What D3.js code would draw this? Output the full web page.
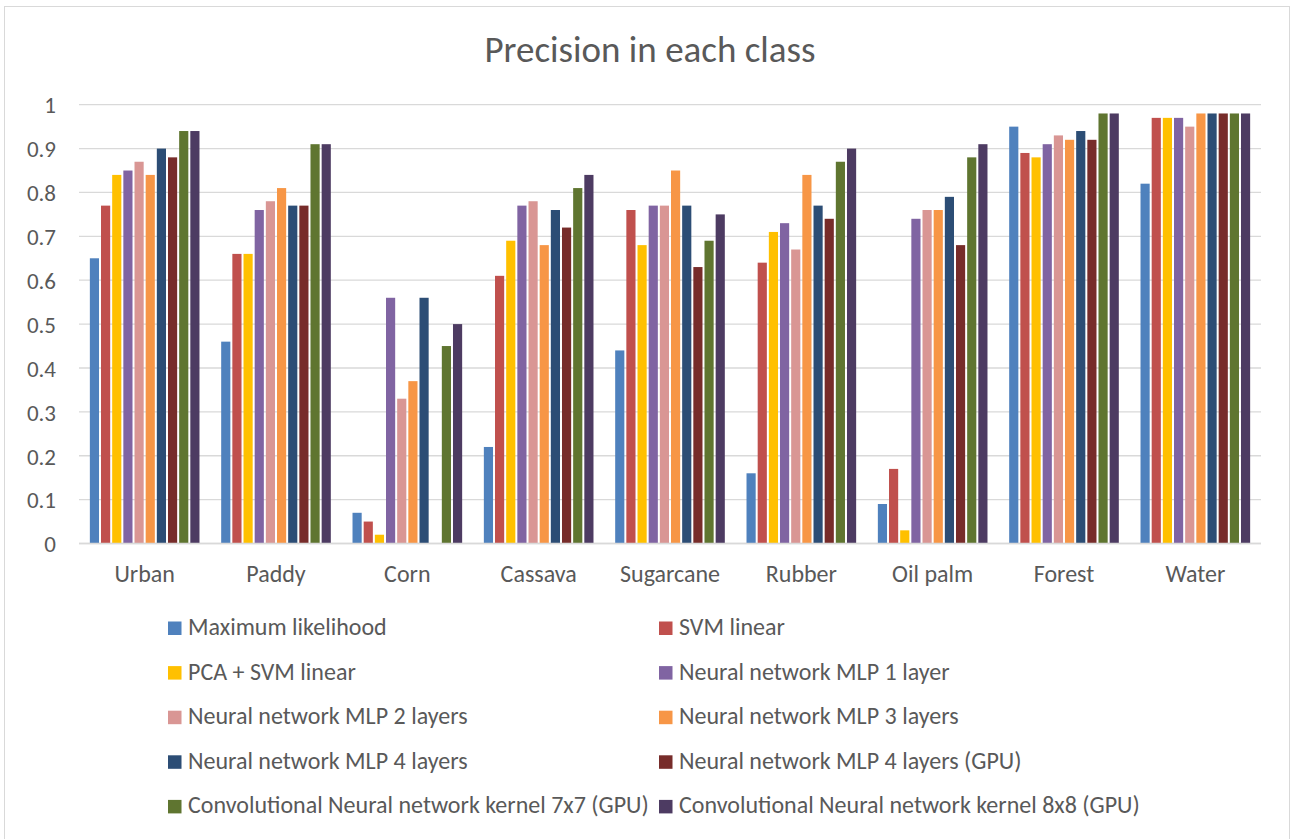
<!DOCTYPE html>
<html>
<head>
<meta charset="utf-8">
<script src="https://cdn.jsdelivr.net/npm/d3@7"></script>
<style>
  html, body { margin: 0; padding: 0; background: #fff; }
  svg text { font-family: Carlito, Calibri, Lato, "Liberation Sans", sans-serif; fill: #595959; }
</style>
</head>
<body>
<svg id="chart" width="1293" height="839"></svg>
<script>
// Classes on the x axis
const categories = ["Urban", "Paddy", "Corn", "Cassava", "Sugarcane", "Rubber", "Oil palm", "Forest", "Water"];

// Classifier names, in legend order
const methods = [
  "Maximum likelihood",
  "SVM linear",
  "PCA + SVM linear",
  "Neural network MLP 1 layer",
  "Neural network MLP 2 layers",
  "Neural network MLP 3 layers",
  "Neural network MLP 4 layers",
  "Neural network MLP 4 layers (GPU)",
  "Convolutional Neural network kernel 7x7 (GPU)",
  "Convolutional Neural network kernel 8x8 (GPU)"
];

// Precision per class for each classifier
const maxLikelihood = [0.65, 0.46, 0.07, 0.22, 0.44, 0.16, 0.09, 0.95, 0.82];
const svmLinear     = [0.77, 0.66, 0.05, 0.61, 0.76, 0.64, 0.17, 0.89, 0.97];
const pcaSvmLinear  = [0.84, 0.66, 0.02, 0.69, 0.68, 0.71, 0.03, 0.88, 0.97];
const mlp1          = [0.85, 0.76, 0.56, 0.77, 0.77, 0.73, 0.74, 0.91, 0.97];
const mlp2          = [0.87, 0.78, 0.33, 0.78, 0.77, 0.67, 0.76, 0.93, 0.95];
const mlp3          = [0.84, 0.81, 0.37, 0.68, 0.85, 0.84, 0.76, 0.92, 0.98];
const mlp4          = [0.90, 0.77, 0.56, 0.76, 0.77, 0.77, 0.79, 0.94, 0.98];
const mlp4Gpu       = [0.88, 0.77, 0.00, 0.72, 0.63, 0.74, 0.68, 0.92, 0.98];
const cnn7x7        = [0.94, 0.91, 0.45, 0.81, 0.69, 0.87, 0.88, 0.98, 0.98];
const cnn8x8        = [0.94, 0.91, 0.50, 0.84, 0.75, 0.90, 0.91, 0.98, 0.98];

const seriesValues = [maxLikelihood, svmLinear, pcaSvmLinear, mlp1, mlp2, mlp3, mlp4, mlp4Gpu, cnn7x7, cnn8x8];

const yTicks = [0, 0.1, 0.2, 0.3, 0.4, 0.5, 0.6, 0.7, 0.8, 0.9, 1];
const yTickLabels = ["0", "0.1", "0.2", "0.3", "0.4", "0.5", "0.6", "0.7", "0.8", "0.9", "1"];

const colors = ["#4F81BD", "#C0504D", "#FFC000", "#8064A2", "#D99694",
                "#F79646", "#2C4D75", "#772C2A", "#5F7530", "#4D3B62"];

const svg = d3.select("#chart");

// Outer chart frame
svg.append("rect")
  .attr("x", 4.5).attr("y", 6.5)
  .attr("width", 1285).attr("height", 840)
  .attr("fill", "#fff").attr("stroke", "#D9D9D9").attr("stroke-width", 1);

// Title
svg.append("text")
  .attr("x", 650).attr("y", 62)
  .attr("text-anchor", "middle")
  .style("font-size", "37px")
  .text("Precision in each class");

const plot = { left: 79, right: 1261, top: 104.7, bottom: 543.5 };

const x = d3.scaleBand()
  .domain(categories)
  .range([plot.left, plot.right])
  .paddingInner(0.15)
  .paddingOuter(0.075);

const xInner = d3.scaleBand()
  .domain(d3.range(methods.length))
  .range([0, x.bandwidth()]);

const y = d3.scaleLinear().domain([0, 1]).range([plot.bottom, plot.top]);

// Horizontal gridlines
svg.append("g")
  .selectAll("line")
  .data(yTicks)
  .join("line")
  .attr("x1", plot.left).attr("x2", plot.right)
  .attr("y1", d => y(d)).attr("y2", d => y(d))
  .attr("stroke", "#D9D9D9").attr("stroke-width", 1.3);

// Y axis labels
const yAxis = d3.axisLeft(y)
  .tickValues(yTicks)
  .tickFormat((d, i) => yTickLabels[i])
  .tickSize(0)
  .tickPadding(0);
const yg = svg.append("g")
  .attr("transform", `translate(${plot.left - 23},0)`)
  .call(yAxis);
yg.select(".domain").remove();
yg.selectAll("text")
  .style("font-size", "23px")
  .attr("fill", "#595959")
  .attr("dy", "0.36em");

// Bars
const groups = svg.append("g")
  .selectAll("g")
  .data(seriesValues)
  .join("g")
  .attr("fill", (d, i) => colors[i]);

groups.each(function (vals, si) {
  d3.select(this).selectAll("rect")
    .data(vals)
    .join("rect")
    .attr("x", (v, ci) => x(categories[ci]) + xInner(si) + 1)
    .attr("width", xInner.bandwidth() - 2)
    .attr("y", v => y(v))
    .attr("height", v => y(0) - y(v));
});

// X axis baseline
svg.append("line")
  .attr("x1", plot.left).attr("x2", plot.right)
  .attr("y1", y(0)).attr("y2", y(0))
  .attr("stroke", "#D9D9D9").attr("stroke-width", 1.3);

// X axis category labels
const xAxis = d3.axisBottom(x).tickSize(0).tickPadding(0);
const xg = svg.append("g")
  .attr("transform", `translate(0,582)`)
  .call(xAxis);
xg.select(".domain").remove();
xg.selectAll("text")
  .style("font-size", "24px")
  .attr("fill", "#595959")
  .attr("dy", "0");

// Legend, two columns
const legendCols = [168, 659];
const legendBaseline0 = 635;
const legendRowStep = 44.6;
const legend = svg.append("g")
  .selectAll("g")
  .data(methods)
  .join("g")
  .attr("transform", (d, i) => `translate(${legendCols[i % 2]},${legendBaseline0 + Math.floor(i / 2) * legendRowStep})`);

legend.append("rect")
  .attr("x", 0).attr("y", -13.5)
  .attr("width", 13.5).attr("height", 13.5)
  .attr("fill", (d, i) => colors[i]);

legend.append("text")
  .attr("x", 20).attr("y", 0)
  .style("font-size", "24px")
  .text(d => d);
</script>
</body>
</html>
